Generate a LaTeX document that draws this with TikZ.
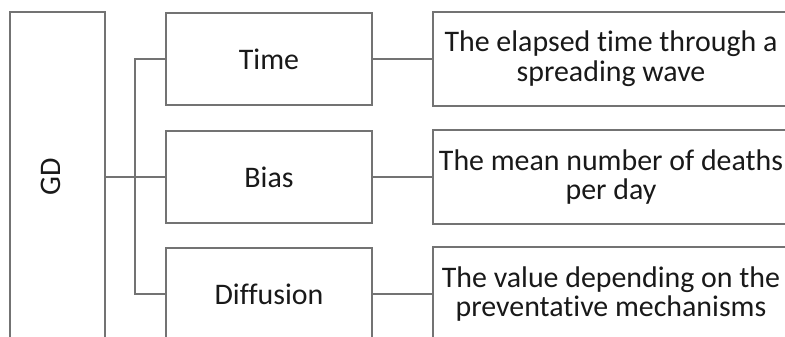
\documentclass[tikz,border=0pt]{standalone}
\usepackage{fontspec}
\setmainfont{Carlito}[Ligatures=NoCommon]
\begin{document}
\begin{tikzpicture}[x=1bp,y=-1bp,
  box/.style={draw=black!55,line width=1.6bp,inner sep=0pt,
    minimum width=206bp,minimum height=92bp,text=black!90,
    font=\fontsize{30}{30}\selectfont},
  descbox/.style={box,minimum width=356bp,minimum height=94bp,align=center},
  link/.style={draw=black!55,line width=1.6bp}]
\useasboundingbox (0,0) rectangle (785,336);
\clip (0,0) rectangle (785,336);

% Root box
\node[box,rotate=90,minimum width=330bp,minimum height=95bp,text depth=14bp] (gd) at (57.5,177) {GD};

% Components
\node[box] (time) at (269,59) {Time};
\node[box] (bias) at (269,177) {Bias};
\node[box] (diffusion) at (269,294) {Diffusion};

% Descriptions
\node[descbox] (tdesc) at (611,59) {The elapsed time through a\\spreading wave};
\node[descbox] (bdesc) at (611,177) {The mean number of deaths\\per day};
\node[descbox] (ddesc) at (611,294) {The value depending on the\\preventative mechanisms};

% Connectors
\coordinate (spine) at (135,177);
\draw[link] (gd.south) -- (bias.west);
\draw[link] (time.west) -| (spine) |- (diffusion.west);
\foreach \a/\b in {time/tdesc,bias/bdesc,diffusion/ddesc}
  \draw[link] (\a.east) -- (\b.west);

\end{tikzpicture}
\end{document}
